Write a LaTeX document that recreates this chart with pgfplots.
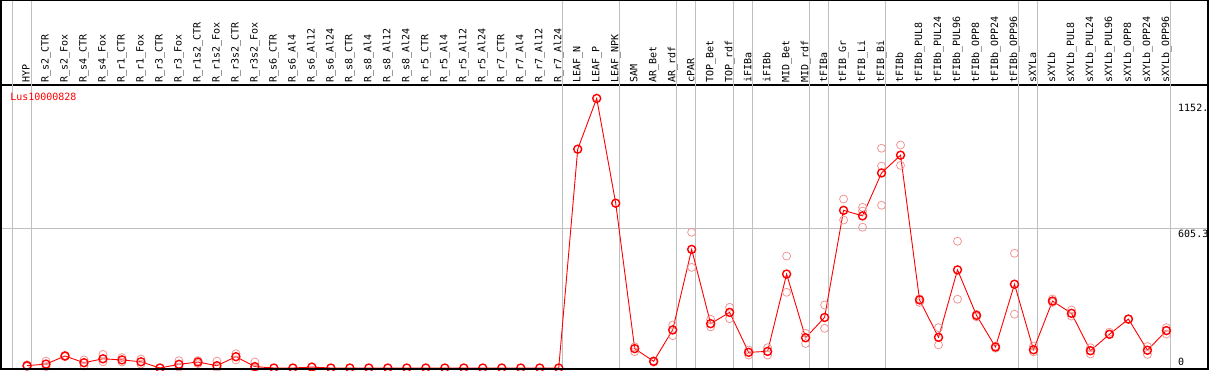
\documentclass[border=0pt]{standalone}
\usepackage{pgfplots}
\pgfplotsset{compat=1.18}
\usepackage{fontspec}
\setmainfont{DejaVu Sans Mono}
\definecolor{gridgray}{RGB}{192,192,192}
\definecolor{repred}{RGB}{240,150,150}
\begin{document}
\begin{tikzpicture}[x=1pt,y=1pt]
\path[use as bounding box] (0,0) rectangle (1209,370);
\begin{axis}[
  at={(1pt,1pt)}, anchor=south west,
  scale only axis, width=1207pt, height=284pt,
  xmin=-1.37, xmax=62.19, ymin=-4.3, ymax=1226,
  axis line style={line width=1.2pt, black},
  xtick={0,...,60},
  xticklabels={HYP, R\_s2\_CTR, R\_s2\_Fox, R\_s4\_CTR, R\_s4\_Fox, R\_r1\_CTR, R\_r1\_Fox, R\_r3\_CTR, R\_r3\_Fox, R\_r1s2\_CTR, R\_r1s2\_Fox, R\_r3s2\_CTR, R\_r3s2\_Fox, R\_s6\_CTR, R\_s6\_Al4, R\_s6\_Al12, R\_s6\_Al24, R\_s8\_CTR, R\_s8\_Al4, R\_s8\_Al12, R\_s8\_Al24, R\_r5\_CTR, R\_r5\_Al4, R\_r5\_Al12, R\_r5\_Al24, R\_r7\_CTR, R\_r7\_Al4, R\_r7\_Al12, R\_r7\_Al24, LEAF\_N, LEAF\_P, LEAF\_NPK, SAM, AR\_Bet, AR\_rdf, cPAR, TOP\_Bet, TOP\_rdf, iFIBa, iFIBb, MID\_Bet, MID\_rdf, tFIBa, tFIB\_Gr, tFIB\_Li, tFIB\_Bi, tFIBb, tFIBb\_PUL8, tFIBb\_PUL24, tFIBb\_PUL96, tFIBb\_OPP8, tFIBb\_OPP24, tFIBb\_OPP96, sXYLa, sXYLb, sXYLb\_PUL8, sXYLb\_PUL24, sXYLb\_PUL96, sXYLb\_OPP8, sXYLb\_OPP24, sXYLb\_OPP96},
  xticklabel pos=right,
  major tick length=0pt,
  xticklabel style={rotate=90, anchor=west, font=\fontsize{10}{12}\selectfont, inner sep=2pt, text height=7.3pt, text depth=2pt},
  ytick=\empty,
  clip=false,
]
\pgfplotsinvokeforeach{-0.79,0.21,28.21,31.21,34.21,35.21,37.21,38.21,41.21,42.21,45.21,52.21,53.21,60.21}{
  \draw[gridgray, line width=0.8pt] (axis cs:#1,-4.3) -- (axis cs:#1,1594);
}
\draw[gridgray, line width=0.8pt] (axis cs:-1.37,605.3) -- (axis cs:62.19,605.3);

\addplot[only marks, mark=o, mark size=4pt, repred, mark options={line width=0.8pt}] coordinates {
(0,6)(0,14)(1,30)(1,6)(2,55)(2,49)(3,35)(3,9)(4,59)(4,27)(5,45)(5,26)(6,39)(6,17)
(8,32)(8,4)(9,32)(9,19)(10,30)(10,2)(11,62)(11,35)(12,26)(12,0)
(32,92)(32,71)(33,31)(33,25)(34,186)(34,140)(35,588)(35,436)(36,211)(36,178)
(37,263)(37,214)(38,78)(38,56)(39,88)(39,56)(40,485)(40,328)(41,150)(41,106)
(42,273)(42,172)(43,732)(43,641)(44,696)(44,680)(44,610)(45,952)(45,875)(45,705)
(46,966)(46,878)(47,284)(47,300)(48,175)(48,100)(49,549)(49,298)(50,222)(50,232)
(51,86)(51,95)(52,497)(52,233)(53,95)(53,70)(54,299)(54,284)(55,251)(55,225)
(56,88)(56,61)(57,155)(57,147)(58,212)(58,212)(59,93)(59,59)(60,175)(60,147)
};

\addplot[red, line width=0.9pt, mark=o, mark size=4pt, mark options={line width=1.4pt}] coordinates {
(0,10)(1,17)(2,52)(3,23)(4,40)(5,35)(6,27)(7,0)(8,16)(9,26)(10,10)(11,49)(12,6)
(13,0)(14,0)(15,4)(16,0)(17,0)(18,0)(19,0)(20,0)(21,0)(22,0)(23,0)(24,0)(25,0)
(26,0)(27,0)(28,0)(29,948)(30,1168)(31,714)(32,84)(33,29)(34,165)(35,514)(36,192)
(37,241)(38,68)(39,72)(40,407)(41,131)(42,219)(43,683)(44,659)(45,845)(46,922)
(47,295)(48,133)(49,425)(50,228)(51,91)(52,363)(53,79)(54,290)(55,237)(56,75)
(57,146)(58,212)(59,77)(60,162)
};

\node[anchor=west, text=red, font=\fontsize{10}{12}\selectfont, inner sep=0pt] at (rel axis cs:0.0075,0.958) {Lus10000828};
\node[anchor=north west, inner sep=0pt, font=\fontsize{10}{12}\selectfont, yshift=-2pt] at (axis cs:60.61,1152) {1152.};
\node[anchor=north west, inner sep=0pt, font=\fontsize{10}{12}\selectfont, yshift=-1.5pt] at (axis cs:60.61,605.3) {605.3};
\node[anchor=south west, inner sep=0pt, font=\fontsize{10}{12}\selectfont, yshift=2.5pt] at (axis cs:60.61,0) {0};
\end{axis}
\draw[line width=1.2pt] (1,1) rectangle (1208,369.4);
\end{tikzpicture}
\end{document}
